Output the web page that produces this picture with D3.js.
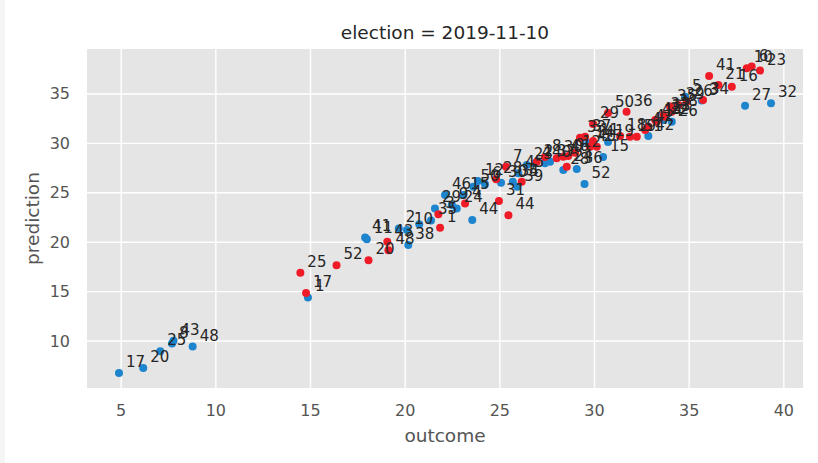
<!DOCTYPE html>
<html>
<head>
<meta charset="utf-8">
<script src="https://cdn.jsdelivr.net/npm/d3@7"></script>
<style>
  html, body { margin: 0; padding: 0; background: #ffffff; }
  svg { display: block; font-family: "DejaVu Sans", sans-serif; }
</style>
</head>
<body>
<svg id="chart" width="818" height="463"></svg>
<script>
// Forecast vs. result per province, general election of 10 Nov 2019
const title = "election = 2019-11-10";
const xTicks = [5, 10, 15, 20, 25, 30, 35, 40];
const yTicks = [10, 15, 20, 25, 30, 35];

// PP (blue) series
const blueOutcome = [4.91, 6.19, 7.09, 7.71, 7.79, 8.80, 14.89, 17.91, 18.00, 19.69, 20.12, 20.19, 20.77,
  21.39, 21.60, 22.49, 22.75, 22.13, 23.10, 23.63, 23.57, 23.87, 24.24, 25.09, 25.71, 25.95, 26.00,
  26.45, 26.89, 27.41, 27.68, 28.38, 29.09, 29.50, 29.70, 30.48, 30.74, 32.87, 33.66, 34.11, 34.81,
  35.69, 37.98, 39.35];
const bluePrediction = [6.72, 7.22, 8.92, 9.70, 9.98, 9.39, 14.36, 20.44, 20.26, 21.35, 21.18, 19.66, 21.78,
  22.16, 23.37, 23.71, 23.37, 24.72, 24.72, 25.56, 22.19, 26.14, 25.84, 25.97, 26.07, 25.56, 26.92,
  27.76, 27.93, 27.93, 28.10, 27.25, 27.36, 25.84, 29.96, 28.57, 30.09, 30.70, 32.32, 32.15, 34.68,
  34.28, 33.77, 34.01];
const blueLabels = ["17", "20", "25", "8", "43", "48", "1", "41", "11", "2", "10", "38", "",
  "35", "29", "9", "24", "46", "15", "50", "44", "12", "6", "30", "34", "39", "45",
  "23", "4", "40", "37", "28", "36", "52", "14", "15", "19", "42", "22", "26", "5",
  "3", "27", "32"];

// PSOE (red) series
const redOutcome = [14.79, 14.49, 16.40, 18.09, 19.08, 19.14, 21.87, 21.78, 23.19, 24.98, 25.48, 24.83,
  25.35, 26.18, 26.98, 28.03, 28.38, 28.64, 28.56, 29.00, 29.26, 29.53, 29.79, 30.15, 30.74, 31.38,
  31.90, 32.26, 31.72, 33.23, 29.95, 33.67, 34.11, 32.87, 33.31, 33.72, 34.02, 34.46, 34.90, 36.08,
  36.57, 35.76, 37.28, 38.07, 38.33, 38.77, 32.70, 29.95, 27.41];
const redPrediction = [14.82, 16.85, 17.63, 18.12, 19.99, 19.15, 21.41, 22.77, 23.88, 24.11, 22.69, 26.31,
  27.59, 26.07, 28.10, 28.44, 28.60, 28.67, 27.59, 29.01, 30.53, 30.63, 29.61, 29.61, 33.03, 30.70,
  30.63, 30.63, 33.16, 32.32, 31.92, 32.83, 33.16, 31.64, 32.15, 32.65, 33.67, 33.84, 34.17, 36.78,
  35.87, 34.35, 35.69, 37.56, 37.72, 37.32, 31.31, 30.19, 28.57];
const redLabels = ["17", "25", "52", "20", "43", "48", "1", "3", "4", "31", "44", "28",
  "7", "5", "2", "30", "46", "9", "24", "12", "33", "37", "40", "27", "50", "18",
  "19", "51", "36", "45", "29", "32", "38", "42", "14", "13", "35", "39", "26", "41",
  "21", "34", "16", "10", "6", "23", "47", "11", "8"];

const BLUE = "#1d84ce", RED = "#ef1c27";

const svg = d3.select("#chart");
const plot = { left: 87, right: 803, top: 49, bottom: 388 };

const x = d3.scaleLinear().domain([3.22, 41.04]).range([plot.left, plot.right]);
const y = d3.scaleLinear().domain([5.2, 39.5]).range([plot.bottom, plot.top]);

// thin off-white strip at the left edge of the figure
svg.append("rect").attr("x", 0).attr("y", 0).attr("width", 5).attr("height", 463).attr("fill", "#f5f5f5");

// panel
svg.append("rect")
  .attr("x", plot.left).attr("y", plot.top)
  .attr("width", plot.right - plot.left).attr("height", plot.bottom - plot.top)
  .attr("fill", "#e5e5e5");

// grid from the axes
const xAxis = d3.axisBottom(x).tickValues(xTicks).tickSize(-(plot.bottom - plot.top)).tickPadding(17);
const yAxis = d3.axisLeft(y).tickValues(yTicks).tickSize(-(plot.right - plot.left)).tickPadding(17);

const gx = svg.append("g").attr("transform", `translate(0,${plot.bottom})`).call(xAxis);
const gy = svg.append("g").attr("transform", `translate(${plot.left},0)`).call(yAxis);
[gx, gy].forEach(g => {
  g.select(".domain").remove();
  g.selectAll(".tick line").attr("stroke", "#ffffff").attr("stroke-width", 1.4);
  g.selectAll(".tick text").attr("fill", "#555555").style("font-size", "16px")
    .style("font-family", "DejaVu Sans, sans-serif");
});
gy.selectAll(".tick text").attr("dy", "0.34em");

// axis titles
svg.append("text").attr("x", (plot.left + plot.right) / 2).attr("y", 442)
  .attr("text-anchor", "middle").attr("fill", "#555555").style("font-size", "18.5px")
  .text("outcome");
svg.append("text").attr("transform", `translate(39,${(plot.top + plot.bottom) / 2}) rotate(-90)`)
  .attr("text-anchor", "middle").attr("fill", "#555555").style("font-size", "18.5px")
  .text("prediction");

// panel title
svg.append("text").attr("x", (plot.left + plot.right) / 2).attr("y", 39)
  .attr("text-anchor", "middle").attr("fill", "#262626").style("font-size", "18.5px")
  .text(title);

const blue = blueOutcome.map((v, i) => ({ x: v, y: bluePrediction[i], label: blueLabels[i] }));
const red = redOutcome.map((v, i) => ({ x: v, y: redPrediction[i], label: redLabels[i] }));

const marks = svg.append("g");
marks.selectAll("circle.pp").data(blue).join("circle").attr("class", "pp")
  .attr("cx", d => x(d.x)).attr("cy", d => y(d.y)).attr("r", 4).attr("fill", BLUE);
marks.selectAll("circle.psoe").data(red).join("circle").attr("class", "psoe")
  .attr("cx", d => x(d.x)).attr("cy", d => y(d.y)).attr("r", 4).attr("fill", RED);

// province codes next to each point
const labels = svg.append("g").style("font-size", "15px").attr("fill", "#262626");
labels.selectAll("text").data(blue.concat(red).filter(d => d.label !== "")).join("text")
  .attr("x", d => x(d.x) + 7).attr("y", d => y(d.y) - 6)
  .text(d => d.label);
</script>
</body>
</html>
